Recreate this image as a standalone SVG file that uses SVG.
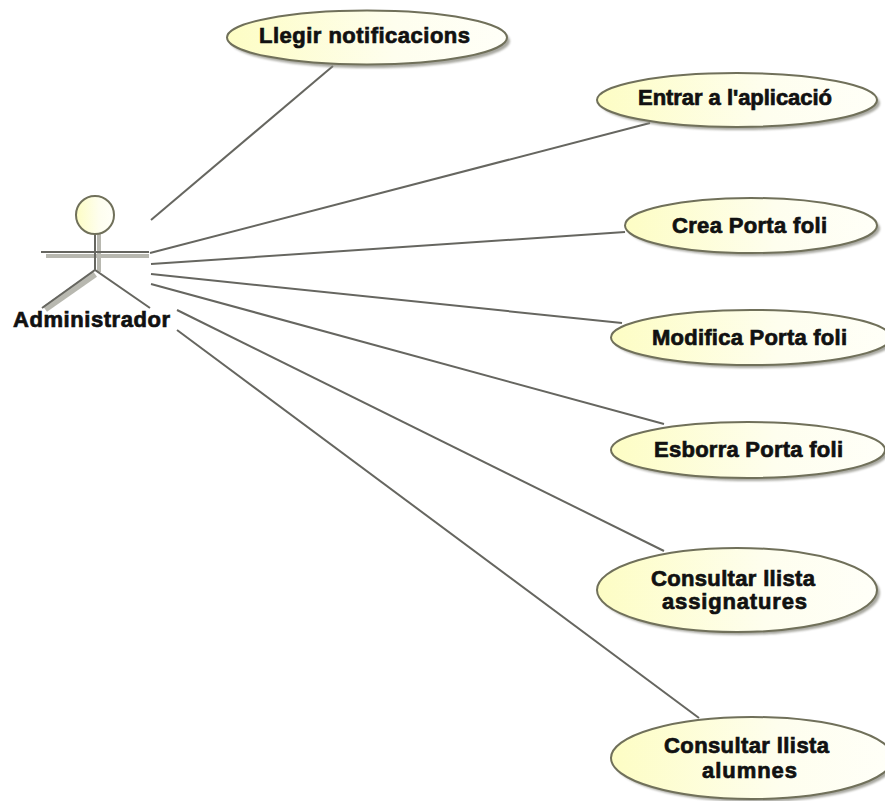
<svg xmlns="http://www.w3.org/2000/svg" width="885" height="801" viewBox="0 0 885 801">
<style>
.uc{fill:url(#g);stroke:#70705a;stroke-width:2}
.sh{fill:#8a8a80;opacity:.75}
.shl{stroke:#b8b8b0;fill:none;stroke-width:4}
.leg{stroke:#b8b8b0;fill:none;stroke-width:7}
.ln{stroke:#666660;stroke-width:2;fill:none}
text{font-family:"Liberation Sans",Arial,sans-serif;font-weight:bold;font-size:22px;fill:#111;text-anchor:middle;stroke:#111;stroke-width:.7}
</style>
<defs>
<linearGradient id="g" x1="0" y1="0" x2="1" y2="0"><stop offset="0" stop-color="#fdfdc4"/><stop offset=".6" stop-color="#fefeee"/><stop offset="1" stop-color="#fffff8"/></linearGradient>
<filter id="b" x="-5%" y="-15%" width="110%" height="130%"><feGaussianBlur stdDeviation="1"/></filter>
</defs>
<rect width="885" height="801" fill="#fff"/>
<g id="connectors">
<line class="ln" x1="151" y1="220" x2="333" y2="66"/>
<line class="ln" x1="150" y1="253" x2="650" y2="123"/>
<line class="ln" x1="151" y1="264" x2="625" y2="232"/>
<line class="ln" x1="151" y1="274" x2="622" y2="323"/>
<line class="ln" x1="151" y1="284" x2="664" y2="424"/>
<line class="ln" x1="177" y1="310" x2="664" y2="551"/>
<line class="ln" x1="177" y1="330" x2="699" y2="718"/>
</g>
<g id="actor">
<path class="shl" d="M46 256H149M99 234V272"/>
<path class="leg" d="M95 274L45 309"/>
<circle cx="95" cy="215" r="19" fill="url(#g)" stroke="#70705a" stroke-width="2"/>
<path class="ln" d="M41 252H149M95 235V270M42 308L95 270L150 308"/>
<text x="91.500" y="327" textLength="157">Administrador</text>
</g>
<g id="uc1"><ellipse class="sh" cx="370" cy="41" rx="140" ry="27" filter="url(#b)"/><ellipse class="uc" cx="367" cy="37.500" rx="140" ry="27"/><text x="364.500" y="43" textLength="211">Llegir notificacions</text></g>
<g id="uc2"><ellipse class="sh" cx="740" cy="103" rx="140" ry="27" filter="url(#b)"/><ellipse class="uc" cx="737" cy="100" rx="140" ry="27"/><text x="735" y="104.500" textLength="194">Entrar a l'aplicació</text></g>
<g id="uc3"><ellipse class="sh" cx="754" cy="228.500" rx="126" ry="27.500" filter="url(#b)"/><ellipse class="uc" cx="751" cy="225.500" rx="126" ry="27.500"/><text x="749.500" y="233" textLength="155">Crea Porta foli</text></g>
<g id="uc4"><ellipse class="sh" cx="754" cy="340.500" rx="140" ry="27.500" filter="url(#b)"/><ellipse class="uc" cx="751" cy="337.500" rx="140" ry="27.500"/><text x="749.500" y="345" textLength="195">Modifica Porta foli</text></g>
<g id="uc5"><ellipse class="sh" cx="751" cy="453" rx="137" ry="28" filter="url(#b)"/><ellipse class="uc" cx="748" cy="450" rx="137" ry="28"/><text x="748.500" y="457" textLength="189">Esborra Porta foli</text></g>
<g id="uc6"><ellipse class="sh" cx="740" cy="593" rx="140" ry="42" filter="url(#b)"/><ellipse class="uc" cx="737" cy="590" rx="140" ry="42"/><text x="733" y="585.500" textLength="164">Consultar llista</text><text x="734.500" y="609" textLength="145">assignatures</text></g>
<g id="uc7"><ellipse class="sh" cx="755" cy="761" rx="141" ry="41" filter="url(#b)"/><ellipse class="uc" cx="752" cy="758" rx="141" ry="41"/><text x="746.500" y="753" textLength="165">Consultar llista</text><text x="749.500" y="777.500" textLength="95">alumnes</text></g>
</svg>
